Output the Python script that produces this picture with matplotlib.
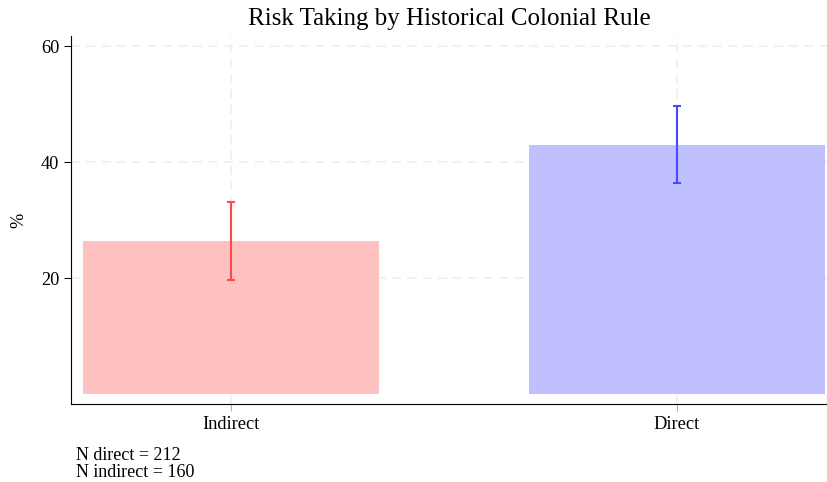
import matplotlib.pyplot as plt
import numpy as np

plt.rcParams['font.family'] = ['Liberation Serif', 'DejaVu Serif']

# data
categories = ['Indirect', 'Direct']
means = [26.4, 42.9]
ci_low = [19.6, 36.4]
ci_high = [33.1, 49.6]
bar_colors = ['#ffc0c0', '#c0c0ff']
err_colors = ['#ff4848', '#4848ff']
n_direct = 212
n_indirect = 160

fig = plt.figure(figsize=(8.28, 4.82), dpi=100)
ax = fig.add_axes([0.0857, 0.162, 0.914, 0.763])

x = np.arange(len(categories))
ax.bar(x, means, width=0.664, color=bar_colors, zorder=2)
for i in range(len(categories)):
    ax.errorbar(x[i], means[i],
                yerr=[[means[i] - ci_low[i]], [ci_high[i] - means[i]]],
                fmt='none', ecolor=err_colors[i], elinewidth=1.5,
                capsize=3, capthick=1.5, zorder=3)

ax.set_xlim(-0.359, 1.339)
ax.set_ylim(-1.7, 61.7)
ax.set_xticks(x)
ax.set_xticklabels(categories, fontsize=13.2)
ax.set_yticks([20, 40, 60])
ax.set_yticklabels(['20', '40', '60'], fontsize=13.2)
ax.tick_params(axis='both', length=5, color='black')
ax.tick_params(axis='x', color='#b0b0b0')
ax.grid(True, linestyle=(0, (6, 4)), color='#eeeeee', linewidth=1.1, zorder=0)
ax.set_axisbelow(True)
ax.spines['top'].set_visible(False)
ax.spines['right'].set_visible(False)
ax.set_ylabel('%', fontsize=13.2, labelpad=10)
ax.set_title('Risk Taking by Historical Colonial Rule', fontsize=18, pad=8)

fig.text(0.092, 0.073, 'N direct = %d\nN indirect = %d' % (n_direct, n_indirect),
         fontsize=13, va='top', ha='left', linespacing=1.0)

fig.savefig('out.png', dpi=100)
